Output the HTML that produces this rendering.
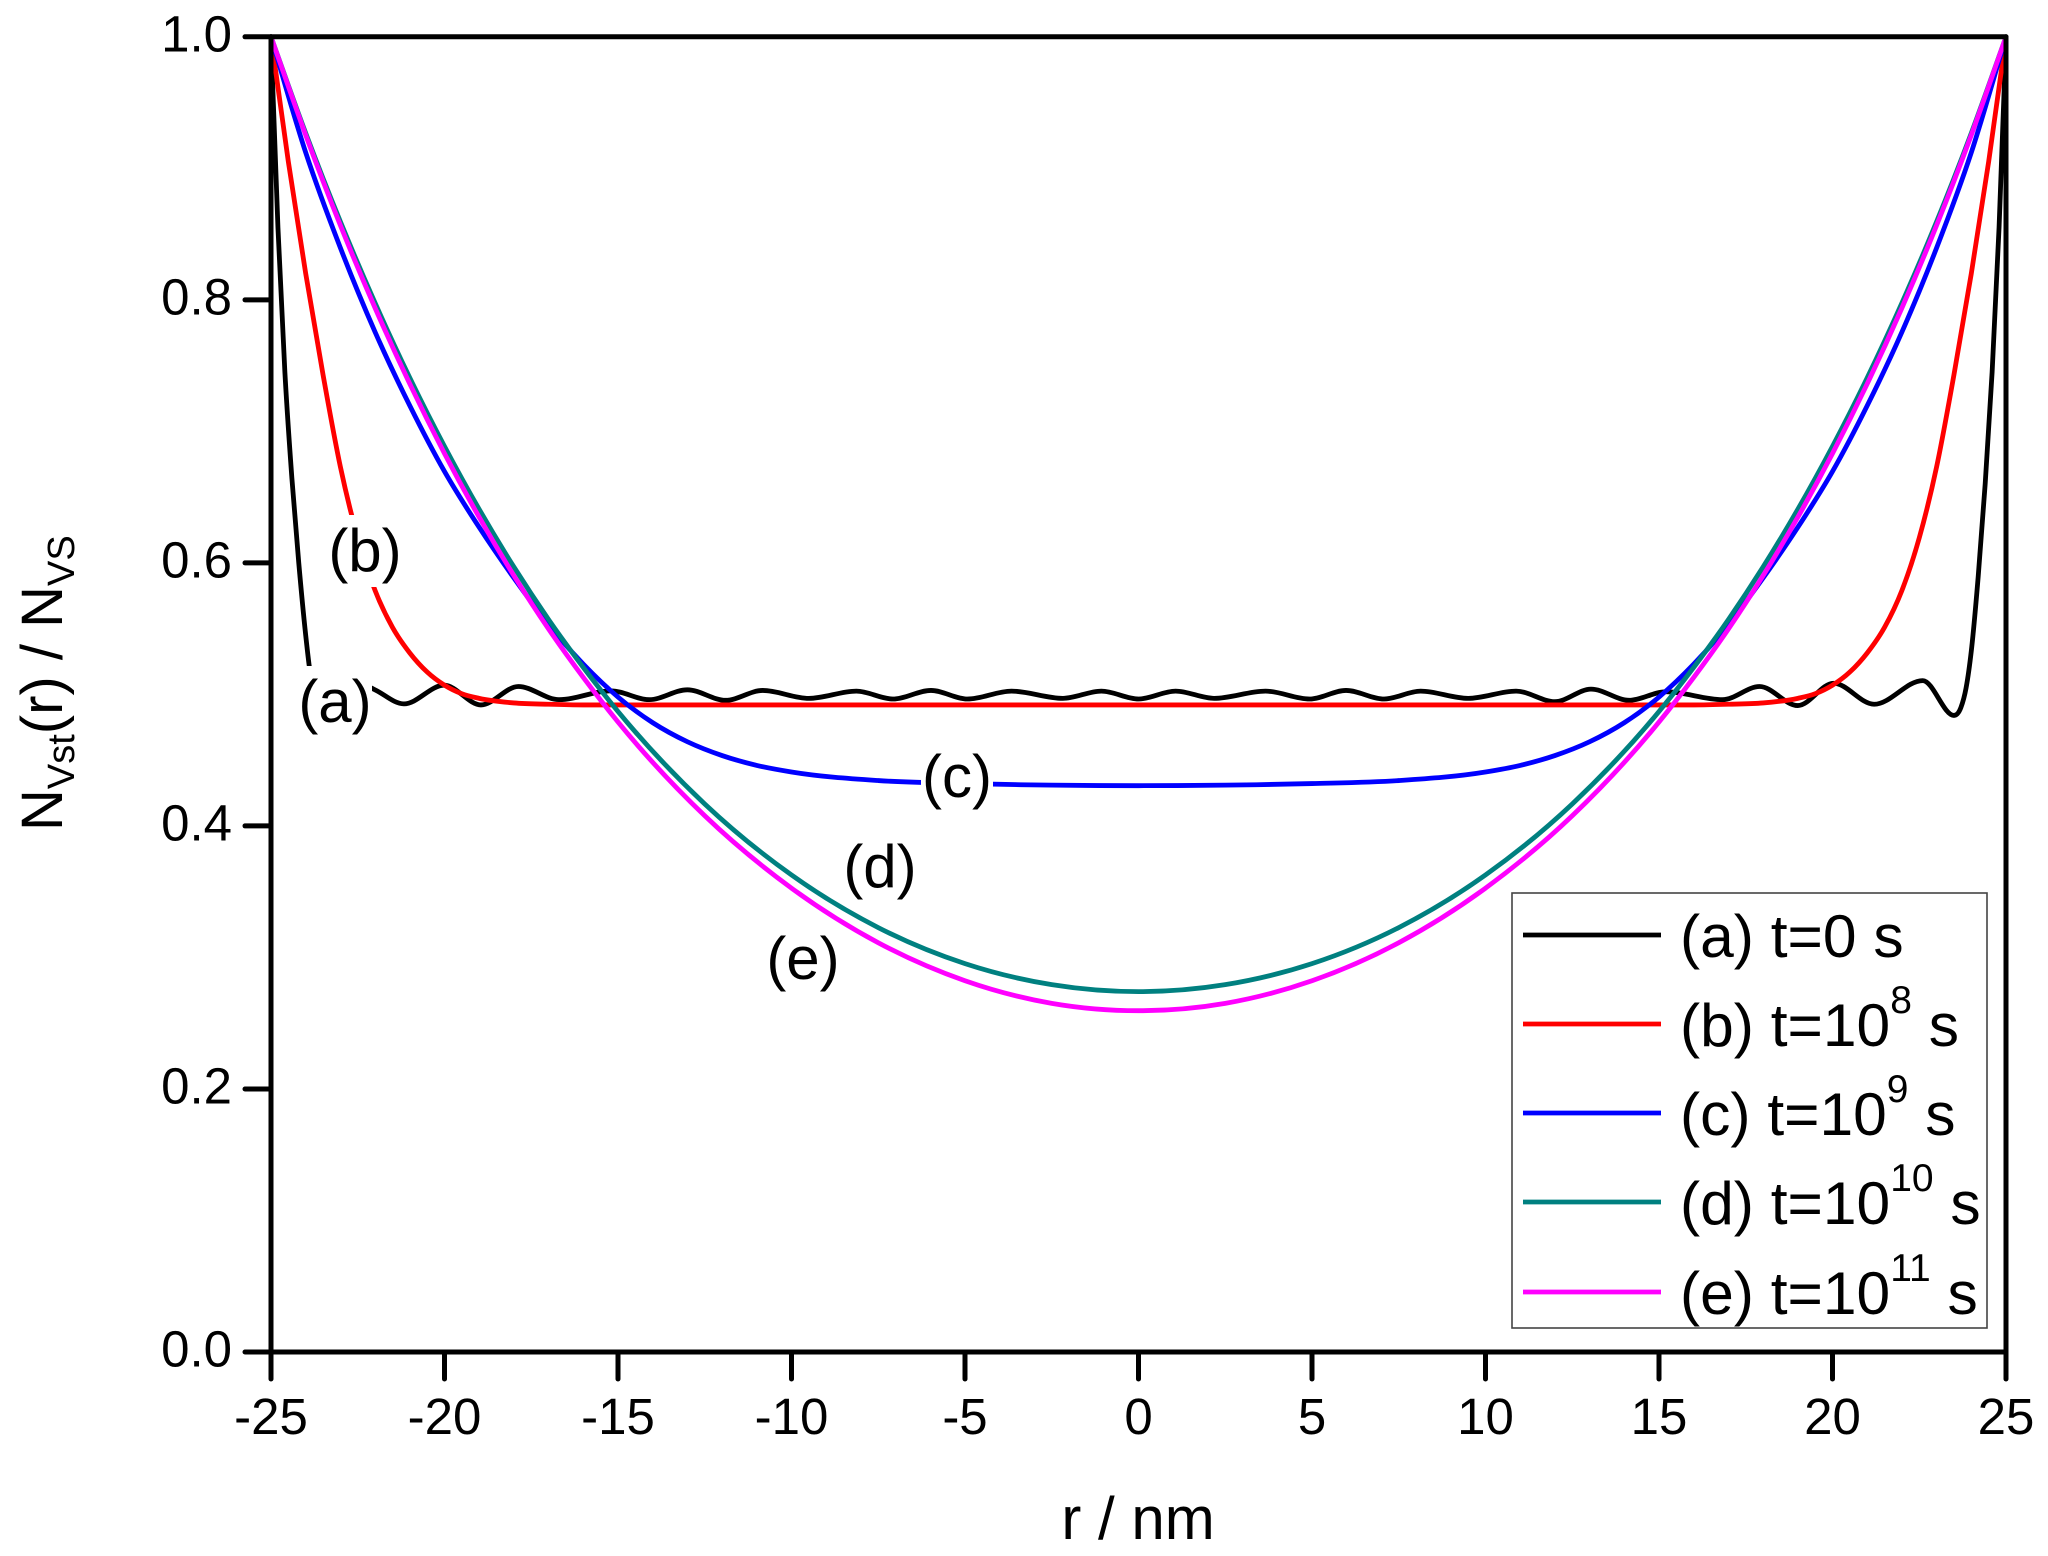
<!DOCTYPE html>
<html lang="en">
<head>
<meta charset="utf-8">
<title>Normalized vacancy concentration profile</title>
<style>
html,body{margin:0;padding:0;background:#fff;}
svg{display:block;font-family:"Liberation Sans",Arial,sans-serif;}
</style>
</head>
<body>
<svg id="chart" xmlns="http://www.w3.org/2000/svg" width="2048" height="1556" viewBox="0 0 2048 1556">
  <rect x="0" y="0" width="2048" height="1556" fill="#fff"/>
  <g id="marks"></g>
  <g id="axes"></g>

  <text x="1138" y="1539" font-size="60" text-anchor="middle">r / nm</text>
  <text transform="translate(62,831) rotate(-90)" font-size="58">N<tspan font-size="38" dy="12">Vst</tspan><tspan dy="-12">(r) / N</tspan><tspan font-size="38" dy="12">VS</tspan></text>

  <g>
    <rect x="299" y="666" width="73" height="72" fill="#fff"/>
    <text x="335" y="722" font-size="60" text-anchor="middle">(a)</text>
  </g>
  <g>
    <rect x="329" y="515" width="73" height="72" fill="#fff"/>
    <text x="365" y="571" font-size="60" text-anchor="middle">(b)</text>
  </g>
  <g>
    <rect x="921" y="753" width="72" height="57" fill="#fff"/>
    <text x="957" y="797" font-size="60" text-anchor="middle">(c)</text>
  </g>
  <text x="880" y="887" font-size="60" text-anchor="middle">(d)</text>
  <text x="803" y="979" font-size="60" text-anchor="middle">(e)</text>

  <g>
    <rect x="1512" y="893" width="475" height="435" fill="#fff" stroke="#444" stroke-width="1.6"/>
    <g>
      <line x1="1523" x2="1661" y1="935" y2="935" stroke="#000" stroke-width="4.8"/>
      <text x="1680" y="957" font-size="60.5">(a) t=0 s</text>
    </g>
    <g>
      <line x1="1523" x2="1661" y1="1024" y2="1024" stroke="#ff0000" stroke-width="4.8"/>
      <text x="1680" y="1046" font-size="60.5">(b) t=10<tspan font-size="39" dy="-33">8</tspan><tspan dy="33"> s</tspan></text>
    </g>
    <g>
      <line x1="1523" x2="1661" y1="1113" y2="1113" stroke="#0000ff" stroke-width="4.8"/>
      <text x="1680" y="1135" font-size="60.5">(c) t=10<tspan font-size="39" dy="-33">9</tspan><tspan dy="33"> s</tspan></text>
    </g>
    <g>
      <line x1="1523" x2="1661" y1="1202" y2="1202" stroke="#008080" stroke-width="4.8"/>
      <text x="1680" y="1224" font-size="60.5">(d) t=10<tspan font-size="39" dy="-33">10</tspan><tspan dy="33"> s</tspan></text>
    </g>
    <g>
      <line x1="1523" x2="1661" y1="1292" y2="1292" stroke="#ff00ff" stroke-width="4.8"/>
      <text x="1680" y="1314" font-size="60.5">(e) t=10<tspan font-size="39" dy="-33">11</tspan><tspan dy="33"> s</tspan></text>
    </g>
  </g>
</svg>
<script>
var xTicks = [-25,-20,-15,-10,-5,0,5,10,15,20,25];
var yTicks = [0,0.2,0.4,0.6,0.8,1];
var yTickLabels = ["0.0","0.2","0.4","0.6","0.8","1.0"];

var rA = [-25,-24.8,-24.6,-24.4,-24.2,-24,-23.9,-23.75,-23.5,-22.6,-22.04,-21.17,-20.01,-18.95,-17.87,-16.7,-15.2,-14.1,-13,-11.9,-10.83,-9.5,-8.13,-7.08,-5.98,-4.93,-3.66,-2.18,-1.07,0,1.07,2.18,3.66,4.93,5.98,7.08,8.13,9.5,10.88,12,13.04,14.14,15.2,16.83,17.9,19,20.03,21.2,22.6,23.5,23.7,23.85,24,24.2,24.4,24.6,24.8,25];
var nA = [1,0.855,0.745,0.665,0.6,0.545,0.522,0.497,0.484,0.51,0.504,0.4928,0.507,0.492,0.506,0.496,0.5027,0.496,0.5035,0.4955,0.503,0.497,0.5025,0.4965,0.503,0.4965,0.5025,0.497,0.5025,0.4965,0.5025,0.497,0.5025,0.4965,0.503,0.4965,0.5025,0.497,0.5025,0.4945,0.504,0.4955,0.502,0.496,0.506,0.4915,0.5085,0.4925,0.5105,0.484,0.49,0.505,0.533,0.59,0.66,0.745,0.855,1];

var rB = [-25,-24.5,-24,-23.5,-23,-22.5,-22,-21.5,-21,-20.5,-20,-19.5,-19,-18,-17,-16,-10,-5,0,5,10,16,17,18,19,19.5,20,20.5,21,21.5,22,22.5,23,23.5,24,24.5,25];
var nB = [1,0.905,0.82,0.743,0.673,0.619,0.579,0.551,0.5315,0.517,0.507,0.5005,0.497,0.4935,0.4925,0.492,0.492,0.492,0.492,0.492,0.492,0.492,0.4925,0.4935,0.497,0.5005,0.507,0.517,0.5315,0.551,0.579,0.619,0.673,0.743,0.82,0.905,1];

var rC = [-25,-24,-23,-22,-21,-20,-19,-18,-17,-16,-15,-14,-13,-12,-11,-10,-7.5,-5,-2.5,0,2.5,5,7.5,10,11,12,13,14,15,16,17,18,19,20,21,22,23,24,25];
var nC = [1,0.912,0.8395,0.7755,0.7195,0.6695,0.627,0.5885,0.553,0.523,0.498,0.4785,0.464,0.4535,0.446,0.441,0.4345,0.4322,0.431,0.4306,0.431,0.4322,0.4345,0.441,0.446,0.4535,0.464,0.4785,0.498,0.523,0.553,0.5885,0.627,0.6695,0.7195,0.7755,0.8395,0.912,1];

var rD = [-25,-24,-23,-22,-21,-20,-19,-18,-17,-16,-15,-12.5,-10,-7.5,-5,-2.5,0,2.5,5,7.5,10,12.5,15,16,17,18,19,20,21,22,23,24,25];
var nD = [1,0.9268,0.8594,0.7976,0.7407,0.6886,0.6407,0.5969,0.5569,0.5205,0.487,0.4167,0.3627,0.3227,0.2953,0.2793,0.274,0.2793,0.2953,0.3227,0.3627,0.4167,0.487,0.5205,0.5569,0.5969,0.6407,0.6886,0.7407,0.7976,0.8594,0.9268,1];

var rE = [-25,-24,-23,-22,-21,-20,-19,-18,-17,-16,-15,-12.5,-10,-7.5,-5,-2.5,0,2.5,5,7.5,10,12.5,15,16,17,18,19,20,21,22,23,24,25];
var nE = [1,0.9253,0.8566,0.7938,0.7361,0.6832,0.6347,0.5903,0.5497,0.5129,0.479,0.4077,0.3527,0.3112,0.2823,0.2651,0.2595,0.2651,0.2823,0.3112,0.3527,0.4077,0.479,0.5129,0.5497,0.5903,0.6347,0.6832,0.7361,0.7938,0.8566,0.9253,1];

var SVGNS = "http://www.w3.org/2000/svg";
var plotLeft = 271, plotRight = 2006, plotTop = 36.8, plotBottom = 1352;
function sx(v){ return plotLeft + (v + 25) / 50 * (plotRight - plotLeft); }
function sy(v){ return plotBottom - v * (plotBottom - plotTop); }

function curvePath(rs, ns){
  var px = rs.map(sx), py = ns.map(sy), n = px.length, i;
  var slope = [], tan = [];
  for(i = 0; i < n - 1; i++){ slope.push((py[i+1] - py[i]) / (px[i+1] - px[i])); }
  tan[0] = slope[0];
  tan[n-1] = slope[n-2];
  for(i = 1; i < n - 1; i++){
    if(slope[i-1] * slope[i] <= 0){ tan[i] = 0; }
    else {
      var a = px[i] - px[i-1], b = px[i+1] - px[i];
      var t = (slope[i-1] * b + slope[i] * a) / (a + b);
      var lim = 3 * Math.min(Math.abs(slope[i-1]), Math.abs(slope[i]));
      tan[i] = Math.abs(t) > lim ? (t < 0 ? -lim : lim) : t;
    }
  }
  var d = "M" + px[0].toFixed(2) + " " + py[0].toFixed(2);
  for(i = 0; i < n - 1; i++){
    var h = (px[i+1] - px[i]) / 3;
    d += "C" + (px[i] + h).toFixed(2) + " " + (py[i] + tan[i] * h).toFixed(2) + " " +
         (px[i+1] - h).toFixed(2) + " " + (py[i+1] - tan[i+1] * h).toFixed(2) + " " +
         px[i+1].toFixed(2) + " " + py[i+1].toFixed(2);
  }
  return d;
}

var marks = document.getElementById("marks");
function drawSeries(name, rs, ns, color){
  var p = document.createElementNS(SVGNS, "path");
  
  
  p.setAttribute("d", curvePath(rs, ns));
  p.setAttribute("fill", "none");
  p.setAttribute("stroke", color);
  p.setAttribute("stroke-width", "4.8");
  p.setAttribute("stroke-linejoin", "round");
  marks.appendChild(p);
}
drawSeries("series-a-t0", rA, nA, "#000000");
drawSeries("series-b-t1e8", rB, nB, "#ff0000");
drawSeries("series-c-t1e9", rC, nC, "#0000ff");
drawSeries("series-d-t1e10", rD, nD, "#008080");
drawSeries("series-e-t1e11", rE, nE, "#ff00ff");

var axes = document.getElementById("axes");
function axisLine(name, x1, y1, x2, y2){
  var l = document.createElementNS(SVGNS, "line");
  
  
  l.setAttribute("x1", x1);
  l.setAttribute("y1", y1);
  l.setAttribute("x2", x2);
  l.setAttribute("y2", y2);
  l.setAttribute("stroke", "#000");
  l.setAttribute("stroke-width", "5");
  l.setAttribute("stroke-linecap", "round");
  axes.appendChild(l);
}
function axisText(name, x, y, anchor, str){
  var t = document.createElementNS(SVGNS, "text");
  
  
  t.setAttribute("x", x);
  t.setAttribute("y", y);
  t.setAttribute("font-size", "51");
  t.setAttribute("text-anchor", anchor);
  t.textContent = str;
  axes.appendChild(t);
}
axisLine("axis-top", plotLeft, plotTop, plotRight, plotTop);
axisLine("axis-right", plotRight, plotTop, plotRight, plotBottom);
axisLine("axis-bottom", plotLeft, plotBottom, plotRight, plotBottom);
axisLine("axis-left", plotLeft, plotTop, plotLeft, plotBottom);
xTicks.forEach(function(v){
  axisLine("x-tick", sx(v), plotBottom, sx(v), plotBottom + 27);
  axisText("x-tick-label", sx(v), 1434, "middle", String(v));
});
yTicks.forEach(function(v, i){
  axisLine("y-tick", plotLeft - 26, sy(v), plotLeft, sy(v));
  axisText("y-tick-label", 232, sy(v) + 14.5, "end", yTickLabels[i]);
});
</script>
</body>
</html>
